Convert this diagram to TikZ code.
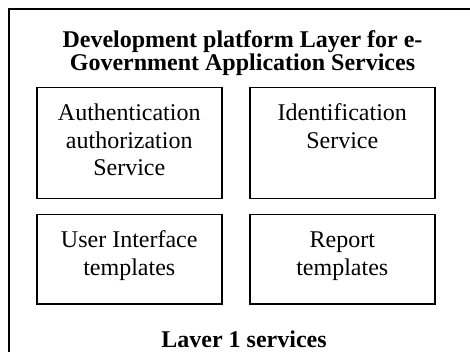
\documentclass[tikz,border=0pt]{standalone}
\usepackage{fontspec}
\setmainfont{Liberation Serif}
\usetikzlibrary{positioning}

% text of one service box, set from its top edge
\newcommand{\svctext}[2]{\parbox[c][#1pt][t]{185pt}{\centering\rule{0pt}{33pt}#2}}

\begin{document}
\begin{tikzpicture}[
  x=1pt, y=-1pt,
  every node/.style={font=\fontsize{24pt}{27.5pt}\selectfont},
  svc/.style={draw, line width=1.5pt, inner sep=0pt, anchor=north west},
  heading/.style={font=\fontsize{24pt}{23.4pt}\selectfont\bfseries, align=center, inner sep=0pt},
  frame/.style={line width=1.6pt}
]
\useasboundingbox (0,0) rectangle (470,352);
% outer layer frame, cut by the page on the right and bottom
\coordinate (fr) at (470,9);
\coordinate (fc) at (9,9);
\coordinate (fb) at (9,352);
\draw[frame] (fr) -- (fc) -- (fb);
\node[heading, anchor=north] (head) at (242.5,30.5)
  {Development platform Layer for e-\\Government Application Services};
\node[svc] (auth) at (36,87) {\svctext{111}{Authentication\\authorization\\Service}};
\node[svc] (ident) at (249,87) {\svctext{111}{Identification\\Service}};
\node[svc] (ui) at (36,214) {\svctext{89}{User Interface\\templates}};
\node[svc] (report) at (249,214) {\svctext{89}{Report\\templates}};
\node[heading, anchor=base] (foot) at (244,347) {Laver 1 services};
\end{tikzpicture}
\end{document}
